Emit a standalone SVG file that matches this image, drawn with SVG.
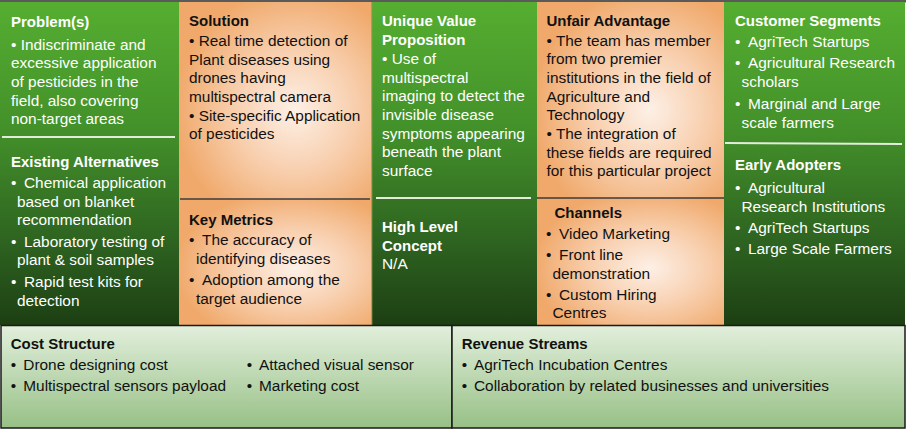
<svg xmlns="http://www.w3.org/2000/svg" width="912" height="431" viewBox="0 0 912 431">
  <defs>
    <linearGradient id="greenCol" gradientUnits="userSpaceOnUse" x1="0" y1="2" x2="0" y2="325">
      <stop offset="0" stop-color="#55ae30"/>
      <stop offset="0.4" stop-color="#43902a"/>
      <stop offset="0.75" stop-color="#2d6220"/>
      <stop offset="1" stop-color="#1d3f13"/>
    </linearGradient>
    <radialGradient id="orangeCell" cx="0.6" cy="0.55" r="0.62">
      <stop offset="0" stop-color="#fdf0e6"/>
      <stop offset="0.5" stop-color="#f8cfae"/>
      <stop offset="1" stop-color="#f0a96b"/>
    </radialGradient>
    <linearGradient id="paleGreen" x1="0" y1="0" x2="0" y2="1">
      <stop offset="0" stop-color="#e2efdc"/>
      <stop offset="1" stop-color="#97c086"/>
    </linearGradient>
  </defs>
  <style>
    .h { font-family: "Liberation Sans", Arial, sans-serif; font-size: 15px; font-weight: bold; }
    .b { font-family: "Liberation Sans", Arial, sans-serif; font-size: 15.4px; }
    .w { fill: #ffffff; }
    .k { fill: #111111; }
    .lightRule { stroke: #e3ecdc; stroke-width: 2; }
    .darkRule { stroke: #3b3b3b; stroke-width: 1.5; }
    .box { stroke: #1a1a1a; stroke-width: 1.5; }
  </style>

  <rect x="0" y="0" width="912" height="431" fill="#ffffff"/>
  <rect x="0" y="0" width="906" height="2.5" fill="#5a5a5a"/>

  <!-- Column 1: Problem / Existing Alternatives -->
  <g id="problem">
    <rect x="0" y="2" width="179" height="323" fill="url(#greenCol)"/>
    <text class="h w" x="11" y="27">Problem(s)</text>
    <text class="b w" x="11" y="49.5">• Indiscriminate and</text>
    <text class="b w" x="11" y="68.2">excessive application</text>
    <text class="b w" x="11" y="87">of pesticides in the</text>
    <text class="b w" x="11" y="105.7">field, also covering</text>
    <text class="b w" x="11" y="124.3">non-target areas</text>
  </g>
  <g id="existing-alternatives">
    <text class="h w" x="11" y="167">Existing Alternatives</text>
    <text class="b w" x="11" y="188"><tspan>•</tspan><tspan x="24">Chemical application</tspan></text>
    <text class="b w" x="17" y="206.7">based on blanket</text>
    <text class="b w" x="17" y="225.3">recommendation</text>
    <text class="b w" x="11" y="246.7"><tspan>•</tspan><tspan x="24">Laboratory testing of</tspan></text>
    <text class="b w" x="17" y="265.3">plant &amp; soil samples</text>
    <text class="b w" x="11" y="286.7"><tspan>•</tspan><tspan x="24">Rapid test kits for</tspan></text>
    <text class="b w" x="17" y="305.5">detection</text>
  </g>

  <!-- Column 2: Solution / Key Metrics -->
  <g id="solution">
    <rect x="179" y="2" width="193" height="197" fill="url(#orangeCell)"/>
    <text class="h k" x="189" y="26">Solution</text>
    <text class="b k" x="189" y="46">• Real time detection of</text>
    <text class="b k" x="189" y="64.7">Plant diseases using</text>
    <text class="b k" x="189" y="83.4">drones having</text>
    <text class="b k" x="189" y="102">multispectral camera</text>
    <text class="b k" x="189" y="120.7">• Site-specific Application</text>
    <text class="b k" x="189" y="139.3">of pesticides</text>
  </g>
  <g id="key-metrics">
    <rect x="179" y="199" width="193" height="126" fill="url(#orangeCell)"/>
    <text class="h k" x="189" y="225">Key Metrics</text>
    <text class="b k" x="189" y="245"><tspan>•</tspan><tspan x="202">The accuracy of</tspan></text>
    <text class="b k" x="196" y="263.5">identifying diseases</text>
    <text class="b k" x="189" y="285"><tspan>•</tspan><tspan x="202">Adoption among the</tspan></text>
    <text class="b k" x="196" y="303.5">target audience</text>
  </g>

  <!-- Column 3: Unique Value Proposition / High Level Concept -->
  <g id="unique-value-proposition">
    <rect x="372" y="2" width="165" height="323" fill="url(#greenCol)"/>
    <rect x="371" y="2" width="1.5" height="323" fill="#8f9a4a" opacity="0.7"/>
    <text class="h w" x="382" y="26">Unique Value</text>
    <text class="h w" x="382" y="44.5">Proposition</text>
    <text class="b w" x="382" y="64">• Use of</text>
    <text class="b w" x="382" y="82.6">multispectral</text>
    <text class="b w" x="382" y="101.3">imaging to detect the</text>
    <text class="b w" x="382" y="120">invisible disease</text>
    <text class="b w" x="382" y="138.6">symptoms appearing</text>
    <text class="b w" x="382" y="157.3">beneath the plant</text>
    <text class="b w" x="382" y="176">surface</text>
  </g>
  <g id="high-level-concept">
    <text class="h w" x="382" y="232.3">High Level</text>
    <text class="h w" x="382" y="250.8">Concept</text>
    <text class="b w" x="382" y="269.4">N/A</text>
  </g>

  <!-- Column 4: Unfair Advantage / Channels -->
  <g id="unfair-advantage">
    <rect x="537" y="2" width="187" height="196" fill="url(#orangeCell)"/>
    <text class="h k" x="546.5" y="26">Unfair Advantage</text>
    <text class="b k" x="546.5" y="45.7">• The team has member</text>
    <text class="b k" x="546.5" y="64.3">from two premier</text>
    <text class="b k" x="546.5" y="83">institutions in the field of</text>
    <text class="b k" x="546.5" y="101.6">Agriculture and</text>
    <text class="b k" x="546.5" y="120.3">Technology</text>
    <text class="b k" x="546.5" y="138.9">• The integration of</text>
    <text class="b k" x="546.5" y="157.5">these fields are required</text>
    <text class="b k" x="546.5" y="176.2">for this particular project</text>
  </g>
  <g id="channels">
    <rect x="537" y="198" width="187" height="127" fill="url(#orangeCell)"/>
    <text class="h k" x="554.5" y="217.5">Channels</text>
    <text class="b k" x="546" y="239"><tspan>•</tspan><tspan x="559">Video Marketing</tspan></text>
    <text class="b k" x="546" y="260"><tspan>•</tspan><tspan x="559">Front line</tspan></text>
    <text class="b k" x="552.5" y="278.5">demonstration</text>
    <text class="b k" x="546" y="300"><tspan>•</tspan><tspan x="559">Custom Hiring</tspan></text>
    <text class="b k" x="552.5" y="317.5">Centres</text>
  </g>

  <!-- Column 5: Customer Segments / Early Adopters -->
  <g id="customer-segments">
    <rect x="724" y="2" width="181" height="323" fill="url(#greenCol)"/>
    <text class="h w" x="735" y="26">Customer Segments</text>
    <text class="b w" x="735" y="46.7"><tspan>•</tspan><tspan x="748">AgriTech Startups</tspan></text>
    <text class="b w" x="735" y="68.3"><tspan>•</tspan><tspan x="748">Agricultural Research</tspan></text>
    <text class="b w" x="741.5" y="86.8">scholars</text>
    <text class="b w" x="735" y="109.3"><tspan>•</tspan><tspan x="748">Marginal and Large</tspan></text>
    <text class="b w" x="741.5" y="127.5">scale farmers</text>
  </g>
  <g id="early-adopters">
    <text class="h w" x="735" y="169.5">Early Adopters</text>
    <text class="b w" x="735" y="193.3"><tspan>•</tspan><tspan x="748">Agricultural</tspan></text>
    <text class="b w" x="741.5" y="211.8">Research Institutions</text>
    <text class="b w" x="735" y="232.5"><tspan>•</tspan><tspan x="748">AgriTech Startups</tspan></text>
    <text class="b w" x="735" y="253.5"><tspan>•</tspan><tspan x="748">Large Scale Farmers</tspan></text>
  </g>

  <!-- Bottom row -->
  <g id="cost-structure">
    <rect x="1" y="325.5" width="451" height="102.5" fill="url(#paleGreen)" class="box"/>
    <text class="h k" x="10.7" y="349.3">Cost Structure</text>
    <text class="b k" x="10.7" y="370"><tspan>•</tspan><tspan x="23.3">Drone designing cost</tspan></text>
    <text class="b k" x="10.7" y="391"><tspan>•</tspan><tspan x="23.3">Multispectral sensors payload</tspan></text>
    <text class="b k" x="246.7" y="370"><tspan>•</tspan><tspan x="259">Attached visual sensor</tspan></text>
    <text class="b k" x="246.7" y="391"><tspan>•</tspan><tspan x="259">Marketing cost</tspan></text>
  </g>
  <g id="revenue-streams">
    <rect x="452" y="325.5" width="453" height="102.5" fill="url(#paleGreen)" class="box"/>
    <text class="h k" x="461.7" y="349.3">Revenue Streams</text>
    <text class="b k" x="461.7" y="370"><tspan>•</tspan><tspan x="474">AgriTech Incubation Centres</tspan></text>
    <text class="b k" x="461.7" y="391"><tspan>•</tspan><tspan x="474">Collaboration by related businesses and universities</tspan></text>
  </g>

  <!-- Section dividers inside the columns -->
  <g id="dividers">
    <line class="lightRule" x1="2" y1="137" x2="175" y2="137"/>
    <line class="darkRule" x1="180" y1="199" x2="370" y2="199"/>
    <line class="lightRule" x1="376" y1="198" x2="531" y2="198"/>
    <line class="darkRule" x1="537" y1="198" x2="724" y2="198"/>
    <line class="lightRule" x1="725" y1="143" x2="902" y2="144"/>
  </g>
</svg>
